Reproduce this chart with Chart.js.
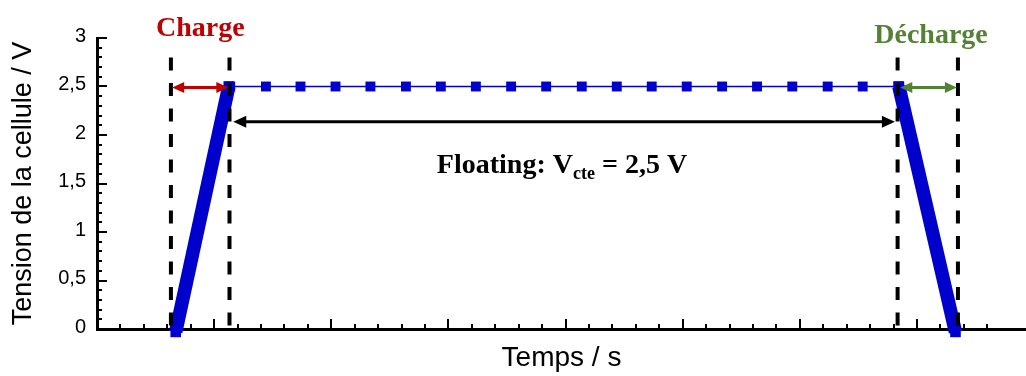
<!DOCTYPE html>
<html>
<head>
<meta charset="utf-8">
<script src="https://cdn.jsdelivr.net/npm/chart.js@4.4.1/dist/chart.umd.min.js"></script>
<style>
  html, body { margin: 0; padding: 0; background: #fff; overflow: hidden; }
  #wrap { width: 1026px; height: 376px; }
</style>
</head>
<body>
<div id="wrap"><canvas id="chart" width="1026" height="376"></canvas></div>
<script>
// tick labels
const yTickLabels = ['0', '0,5', '1', '1,5', '2', '2,5', '3'];

// charge ramp
const chargeX = [0.672, 1.125];
const chargeY = [-0.03, 2.5];

// floating plateau
const floatX = [1.137, 1.442, 1.737, 2.036, 2.334, 2.637, 2.935, 3.234, 3.535, 3.834,
                4.138, 4.437, 4.735, 5.034, 5.336, 5.634, 5.935, 6.237, 6.536, 6.840];
const floatY = [2.5, 2.5, 2.5, 2.5, 2.5, 2.5, 2.5, 2.5, 2.5, 2.5,
                2.5, 2.5, 2.5, 2.5, 2.5, 2.5, 2.5, 2.5, 2.5, 2.5];

// discharge ramp
const dischargeX = [6.845, 7.328];
const dischargeY = [2.5, -0.03];

// dashed phase limits
const limitX = [0.631, 1.131, 6.834, 7.349];
const limitY = [2.8, -0.07];

// arrows [x1, x2, y]
const chargeArrow = [0.642, 1.121, 2.49];
const dischargeArrow = [6.857, 7.340, 2.49];
const floatArrow = [1.163, 6.811, 2.137];

const BLUE = '#0000cc';
const RED = '#c00000';
const GREEN = '#548235';

const zip = (xs, ys) => xs.map((x, i) => ({ x, y: ys[i] }));

const limitSets = limitX.map(x => ({
  data: [{ x, y: limitY[0] }, { x, y: limitY[1] }],
  borderColor: '#000',
  borderWidth: 4,
  borderDash: [13, 12.5],
  pointRadius: 0,
  clip: false,
  order: 0,
}));

const rampStyle = {
  borderColor: BLUE,
  backgroundColor: BLUE,
  borderWidth: 13.5,
  borderCapStyle: 'butt',
  pointStyle: 'rect',
  pointRadius: 7.5,
  pointBorderWidth: 0,
  clip: false,
  order: 1,
};

function arrow(ctx, x1, x2, y, color, head, hw) {
  ctx.save();
  ctx.strokeStyle = color;
  ctx.fillStyle = color;
  ctx.lineWidth = 3;
  ctx.beginPath();
  ctx.moveTo(x1 + head - 1, y);
  ctx.lineTo(x2 - head + 1, y);
  ctx.stroke();
  ctx.beginPath();
  ctx.moveTo(x1, y); ctx.lineTo(x1 + head, y - hw); ctx.lineTo(x1 + head, y + hw); ctx.closePath();
  ctx.moveTo(x2, y); ctx.lineTo(x2 - head, y - hw); ctx.lineTo(x2 - head, y + hw); ctx.closePath();
  ctx.fill();
  ctx.restore();
}

const axisTicks = {
  id: 'axisTicks',
  beforeDatasetsDraw(chart) {
    const { ctx, chartArea, scales: { x, y } } = chart;
    ctx.save();
    ctx.strokeStyle = '#000';
    ctx.lineWidth = 2;
    y.ticks.forEach((t, i) => {
      const py = Math.round(y.getPixelForValue(t.value));
      const len = i % 5 === 0 ? 10 : 5;
      ctx.beginPath();
      ctx.moveTo(chartArea.left, py);
      ctx.lineTo(chartArea.left + len, py);
      ctx.stroke();
    });
    x.ticks.forEach(t => {
      const q = t.value / 0.2;
      if (Math.abs(q - Math.round(q)) > 1e-6 || t.value === 0) return;
      const px = Math.round(x.getPixelForValue(t.value));
      const len = Math.abs(t.value - Math.round(t.value)) < 1e-6 ? 10 : 5;
      ctx.beginPath();
      ctx.moveTo(px, chartArea.bottom);
      ctx.lineTo(px, chartArea.bottom - len);
      ctx.stroke();
    });
    ctx.restore();
  }
};

const annotations = {
  id: 'annotations',
  afterDatasetsDraw(chart) {
    const { ctx, scales: { x, y } } = chart;
    const px = v => x.getPixelForValue(v);
    const py = v => y.getPixelForValue(v);

    arrow(ctx, px(chargeArrow[0]), px(chargeArrow[1]), py(chargeArrow[2]), RED, 12, 5.5);
    arrow(ctx, px(dischargeArrow[0]), px(dischargeArrow[1]), py(dischargeArrow[2]), GREEN, 12, 5.5);
    arrow(ctx, px(floatArrow[0]), px(floatArrow[1]), py(floatArrow[2]), '#000', 13, 6);

    ctx.save();
    ctx.textBaseline = 'alphabetic';
    ctx.textAlign = 'center';
    ctx.font = 'bold 28px "Liberation Serif", "Times New Roman", serif';
    ctx.fillStyle = RED;
    ctx.fillText('Charge', (px(chargeArrow[0]) + px(chargeArrow[1])) / 2, 36);
    ctx.fillStyle = GREEN;
    ctx.fillText('Décharge', 931, 43);

    // Floating: V_cte = 2,5 V
    ctx.fillStyle = '#000';
    ctx.textAlign = 'left';
    const big = 'bold 28px "Liberation Serif", "Times New Roman", serif';
    const small = 'bold 18px "Liberation Serif", "Times New Roman", serif';
    const p1 = 'Floating: V', p2 = 'cte', p3 = ' = 2,5 V';
    ctx.font = big; const w1 = ctx.measureText(p1).width, w3 = ctx.measureText(p3).width;
    ctx.font = small; const w2 = ctx.measureText(p2).width;
    let sx = 562 - (w1 + w2 + w3) / 2;
    const by = 173;
    ctx.font = big; ctx.fillText(p1, sx, by); sx += w1;
    ctx.font = small; ctx.fillText(p2, sx, by + 6); sx += w2;
    ctx.font = big; ctx.fillText(p3, sx, by);
    ctx.restore();
  }
};

new Chart(document.getElementById('chart'), {
  type: 'line',
  data: {
    datasets: [
      ...limitSets,
      { data: zip(chargeX, chargeY), ...rampStyle },
      {
        data: zip(floatX, floatY),
        borderColor: BLUE,
        backgroundColor: BLUE,
        borderWidth: 1.5,
        pointStyle: 'rect',
        pointRadius: 7,
        pointBorderWidth: 0,
        order: 1,
      },
      { data: zip(dischargeX, dischargeY), ...rampStyle },
    ],
  },
  options: {
    responsive: false,
    animation: false,
    devicePixelRatio: 1,
    layout: { autoPadding: false, padding: { top: 38, right: 0, left: 0, bottom: 0 } },
    plugins: { legend: { display: false }, tooltip: { enabled: false } },
    elements: { line: { tension: 0 } },
    scales: {
      x: {
        type: 'linear',
        min: 0,
        max: 7.93,
        afterFit: s => { s.height = 47; },
        grid: { display: false, drawTicks: false },
        border: { display: true, color: '#000', width: 3 },
        ticks: { display: false, stepSize: 0.2 },
        title: {
          display: true,
          text: 'Temps / s',
          color: '#000',
          font: { family: '"Liberation Sans", Arial, sans-serif', size: 28 },
          padding: { top: 0, bottom: 1 },
        },
      },
      y: {
        type: 'linear',
        min: 0,
        max: 3,
        afterFit: s => { s.width = 97; },
        grid: { display: false, drawTicks: false },
        border: { display: true, color: '#000', width: 3 },
        ticks: {
          stepSize: 0.1,
          autoSkip: false,
          padding: 11,
          labelOffset: -2,
          color: '#000',
          font: { family: '"Liberation Sans", Arial, sans-serif', size: 20 },
          callback: (v, i) => (i % 5 === 0 ? yTickLabels[i / 5] : ''),
        },
        title: {
          display: true,
          text: 'Tension de la cellule / V',
          color: '#000',
          font: { family: '"Liberation Sans", Arial, sans-serif', size: 27 },
          padding: { top: 7, bottom: 0 },
        },
      },
    },
  },
  plugins: [axisTicks, annotations],
});
</script>
</body>
</html>
